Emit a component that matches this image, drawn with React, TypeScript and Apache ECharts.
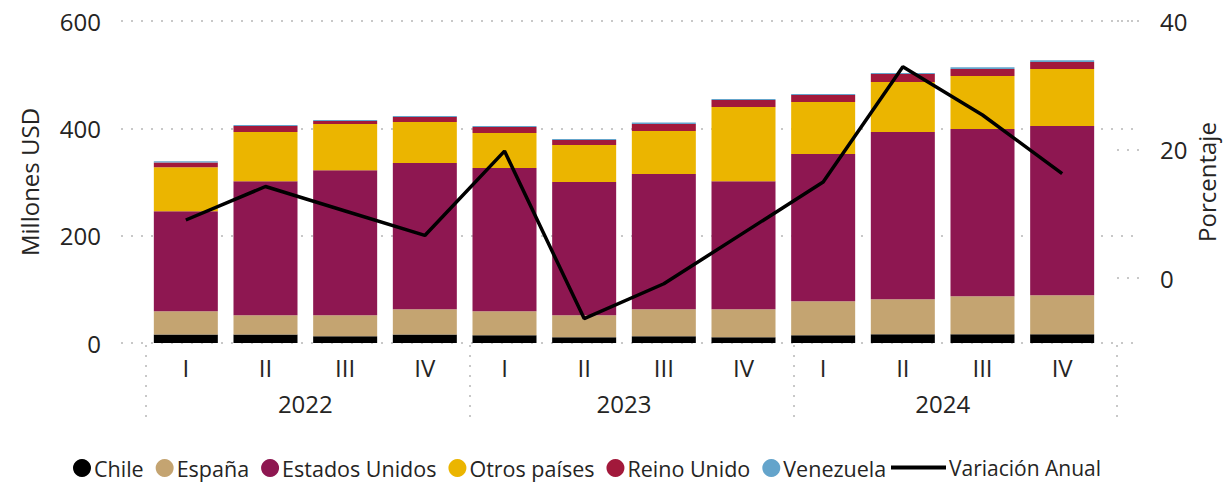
import React, { useEffect, useRef } from "react";
import * as echarts from "echarts";

const years = ["2022", "2023", "2024"];
const quarters = ["I", "II", "III", "IV"];

const chile = [16, 16, 12.4, 16, 14.3, 10.6, 12.4, 10.6, 14.3, 16.2, 16.2, 16.2];
const espana = [43, 35.6, 39.2, 46.8, 44.8, 41, 50.4, 52.2, 63.4, 65.3, 70.9, 72.7];
const estadosUnidos = [186.6, 250, 270.5, 272.4, 266.8, 248.2, 251.9, 238.8, 274.3, 311.5, 311.5, 315.3];
const otrosPaises = [82, 91.4, 85.9, 76.5, 65.3, 69, 80.2, 138.1, 97, 93.3, 98.9, 106.4];
const reinoUnido = [8.7, 11.2, 5.6, 9.3, 11.2, 9.3, 13.1, 13, 13.1, 14.9, 13.1, 13];
const venezuela = [2.5, 1.8, 1.8, 1.9, 1.8, 1.9, 3.1, 1.9, 1.8, 1.9, 3.1, 3.1];
const variacionAnual = [9.1, 14.3, 10.5, 6.7, 19.8, -6.2, -0.8, 7.1, 15.0, 32.9, 25.4, 16.3];

const leftTicks = { min: 0, max: 600, interval: 200 };
const rightTicks = { min: 0, max: 40, interval: 20 };
const rightRange = { min: -10, max: 40 };

const FONT = "'Open Sans', 'Noto Sans', sans-serif";
const TEXT = "#252423";
const GRIDC = "#c8c8c8";

const barSeries = [
  { name: "Chile", data: chile, color: "#000000" },
  { name: "España", data: espana, color: "#C4A471" },
  { name: "Estados Unidos", data: estadosUnidos, color: "#8E1751" },
  { name: "Otros países", data: otrosPaises, color: "#EBB500" },
  { name: "Reino Unido", data: reinoUnido, color: "#A2193B" },
  { name: "Venezuela", data: venezuela, color: "#64A4CB" },
];

const categories = years.flatMap((y) => quarters.map((q) => `${y}|${q}`));

export default function App() {
  const ref = useRef<HTMLDivElement>(null);

  useEffect(() => {
    document.body.style.margin = "0";
    const chart = echarts.init(ref.current!, null, { renderer: "svg" });
    const dotted = { color: GRIDC, width: 2, type: [2, 8] as any };

    chart.setOption({
      animation: false,
      textStyle: { fontFamily: FONT, color: TEXT },
      grid: [
        { left: 121, right: 85, top: 21, bottom: 139 },
        { left: 146, right: 109, top: 21, bottom: 139 },
        { left: 1117, right: 85, top: 21, bottom: 204 },
        { left: 146, right: 109, top: 345, bottom: 57 },
      ],
      legend: [
        {
          left: 73,
          top: 457,
          padding: 0,
          icon: "circle",
          itemWidth: 18,
          itemHeight: 18,
          itemGap: 12,
          data: barSeries.map((s) => s.name),
          textStyle: { fontFamily: FONT, fontSize: 21.5, color: TEXT, padding: [0, 0, 0, -2] },
        },
        {
          left: 891,
          top: 457,
          padding: 0,
          icon: "path://M0,0H55V4H0Z",
          itemWidth: 55,
          itemHeight: 18,
          data: ["Variación Anual"],
          itemStyle: { color: "#000" },
          textStyle: { fontFamily: FONT, fontSize: 21, color: TEXT, padding: [0, 0, 0, -2] },
        },
      ],
      xAxis: [
        {
          type: "category",
          gridIndex: 1,
          position: "bottom",
          data: categories,
          axisLine: { show: false },
          axisTick: { show: false },
          axisLabel: {
            margin: 12,
            fontSize: 24,
            color: TEXT,
            fontFamily: FONT,
            formatter: (v: string) => v.split("|")[1],
          },
        },
        {
          type: "category",
          gridIndex: 1,
          position: "bottom",
          data: years,
          axisLine: { show: false },
          axisTick: { show: false },
          axisLabel: { margin: 48, fontSize: 24, color: TEXT, fontFamily: FONT },
        },
        { type: "value", gridIndex: 0, min: 0, max: 1, show: false },
        { type: "value", gridIndex: 2, min: 0, max: 1, show: false },
        {
          type: "category",
          gridIndex: 3,
          data: years,
          axisLine: { show: false },
          axisTick: { show: false },
          axisLabel: { show: false },
          splitLine: { show: true, interval: 0, showMinLine: true, showMaxLine: true, lineStyle: dotted },
        },
      ],
      yAxis: [
        {
          type: "value",
          gridIndex: 0,
          position: "left",
          ...leftTicks,
          axisLine: { show: false },
          axisTick: { show: false },
          axisLabel: { margin: 20, fontSize: 24, color: TEXT, fontFamily: FONT },
          splitLine: { show: true, lineStyle: dotted },
          name: "Millones USD",
          nameLocation: "middle",
          nameRotate: 90,
          nameGap: 80,
          nameTextStyle: { fontSize: 24, color: TEXT, fontFamily: FONT },
        },
        { type: "value", gridIndex: 1, ...leftTicks, show: false },
        {
          type: "value",
          gridIndex: 1,
          position: "right",
          ...rightRange,
          axisLine: { show: false },
          axisTick: { show: false },
          axisLabel: { show: false },
          splitLine: { show: false },
          name: "Porcentaje",
          nameLocation: "middle",
          nameRotate: 90,
          nameGap: 92,
          nameTextStyle: { fontSize: 24, color: TEXT, fontFamily: FONT },
        },
        {
          type: "value",
          gridIndex: 2,
          position: "right",
          ...rightTicks,
          axisLine: { show: false },
          axisTick: { show: false },
          axisLabel: { margin: 19, fontSize: 24, color: TEXT, fontFamily: FONT },
          splitLine: { show: true, lineStyle: dotted },
        },
        { type: "value", gridIndex: 3, min: 0, max: 1, show: false },
      ],
      series: [
        ...barSeries.map((s) => ({
          name: s.name,
          type: "bar",
          stack: "total",
          xAxisIndex: 0,
          yAxisIndex: 1,
          barWidth: 64,
          data: s.data,
          itemStyle: { color: s.color },
        })),
        {
          name: "Variación Anual",
          type: "line",
          xAxisIndex: 0,
          yAxisIndex: 2,
          data: variacionAnual,
          symbol: "none",
          z: 5,
          lineStyle: { color: "#000", width: 3.5 },
          itemStyle: { color: "#000" },
        },
      ],
    });
    return () => chart.dispose();
  }, []);

  return (
    <div
      ref={ref}
      style={{ position: "fixed", left: 0, top: 0, width: 1226, height: 482, background: "#fff" }}
    />
  );
}
